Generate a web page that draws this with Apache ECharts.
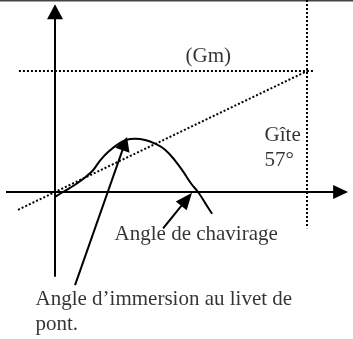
<!DOCTYPE html>
<html>
<head>
<meta charset="utf-8">
<script src="https://cdn.jsdelivr.net/npm/echarts@6/dist/echarts.min.js"></script>
<style>
  html, body { margin: 0; padding: 0; background: #fff; }
  #chart { width: 353px; height: 339px; }
</style>
</head>
<body>
<div id="chart"></div>
<script>
// stability curve: heel angle (deg) vs righting lever (in GM units)
const heelDeg = [0, 2.27, 4.55, 6.82, 8.64, 10.23, 12.05, 14.09, 16.14, 18.18, 20.45, 22.73, 25.0, 27.27, 29.09, 30.91, 32.5, 34.09, 35.68]
const gzValues = [-0.04, 0.01, 0.06, 0.12, 0.18, 0.26, 0.33, 0.39, 0.43, 0.44, 0.43, 0.4, 0.35, 0.26, 0.17, 0.07, 0, -0.09, -0.18]

// construction lines (dotted): GM level, 57.3 deg vertical, tangent at origin
const dottedFrom = [[-8.2, 1.0], [57.3, 1.587], [-8.4, -0.147]]
const dottedTo = [[58.6, 1.0], [57.3, -0.3], [57.3, 1.0]]

// arrows: y axis, x axis, immersion pointer, capsize pointer
const arrowFrom = [[0, -0.7], [-11.14, 0], [4.55, -0.77], [24.55, -0.3]]
const arrowTo = [[0, 1.49], [64.89, 0], [15.84, 0.4], [29.9, -0.06]]

// annotations
const labelTexts = ['(Gm)', 'Gîte', '57°', 'Angle de chavirage', 'Angle d\u2019immersion au livet de', 'pont.']
const labelX = [29.77, 47.73, 47.73, 13.64, -4.32, -4.32]
const labelY = [1.116, 0.463, 0.256, -0.355, -0.893, -1.099]

const arrowHeads = [[16, 15], [14, 15], [15, 14], [14, 17]]
const font = '"Liberation Serif", "Times New Roman", serif'

const chart = echarts.init(document.getElementById('chart'))

const option = {
  animation: false,
  grid: { left: 0, right: 0, top: 0, bottom: 0 },
  xAxis: { type: 'value', min: -12.5, max: 67.7, show: false },
  yAxis: { type: 'value', min: -1.215, max: 1.587, show: false },
  graphic: [
    { type: 'rect', shape: { x: 0, y: 0, width: 353, height: 1.5 }, style: { fill: '#444' } }
  ],
  series: [
    {
      type: 'line',
      data: heelDeg.map((x, i) => [x, gzValues[i]]),
      smooth: 0.4,
      symbol: 'none',
      silent: true,
      lineStyle: { color: '#000', width: 2 },
      markLine: {
        silent: true,
        symbol: 'none',
        label: { show: false },
        lineStyle: { color: '#000', width: 2, type: [2, 2] },
        data: dottedFrom.map((p, i) => [{ coord: p }, { coord: dottedTo[i] }])
      }
    },
    {
      type: 'line',
      data: [],
      silent: true,
      markLine: {
        silent: true,
        symbol: ['none', 'triangle'],
        label: { show: false },
        lineStyle: { color: '#000', width: 2, type: 'solid' },
        itemStyle: { color: '#000' },
        data: arrowFrom.map((p, i) => [
          { coord: p },
          { coord: arrowTo[i], symbolSize: arrowHeads[i] }
        ])
      }
    },
    {
      type: 'scatter',
      silent: true,
      symbolSize: 1,
      itemStyle: { color: 'rgba(0,0,0,0)' },
      data: labelX.map((x, i) => ({ value: [x, labelY[i]], name: labelTexts[i] })),
      label: {
        show: true,
        position: [0, 0],
        align: 'left',
        verticalAlign: 'middle',
        formatter: p => p.name,
        fontFamily: font,
        fontSize: 21,
        color: '#000'
      }
    }
  ]
}

chart.setOption(option)
</script>
</body>
</html>
